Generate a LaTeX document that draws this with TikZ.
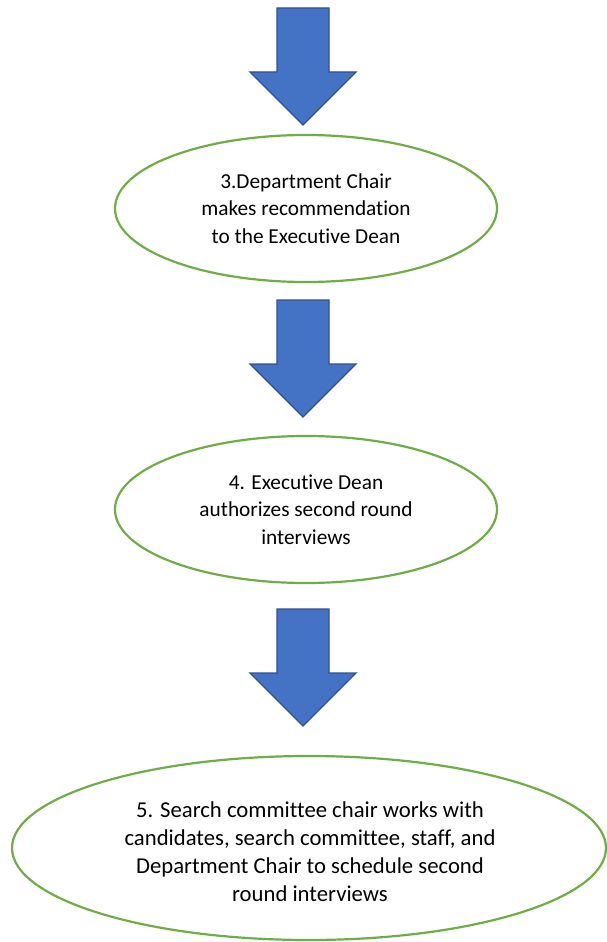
\documentclass[tikz,border=0pt]{standalone}
\usepackage{fontspec}
\setmainfont{Carlito}[Ligatures={NoCommon,NoRare,NoContextual}]
\usetikzlibrary{shapes.geometric}
\definecolor{arrowblue}{HTML}{4472C4}
\definecolor{arrowedge}{HTML}{2F528F}
\definecolor{ellgreen}{HTML}{70AD47}
\tikzset{
  stepell/.style={ellipse, draw=ellgreen, line width=2.2pt, fill=white,
    align=center, inner sep=0pt,
    font=\fontsize{21.3}{27.5}\selectfont, text=black},
  steptext/.style={align=center, inner sep=0pt, text=black,
    font=\fontsize{22.7}{27.8}\selectfont},
  blockarrow/.style={fill=arrowblue, draw=arrowedge, line width=1.3pt, line join=miter}
}
\begin{document}
\begin{tikzpicture}[x=1pt,y=-1pt]
\useasboundingbox[fill=white] (0,0) rectangle (607,942);
% block arrows
\foreach \t/\n in {8/a1,300/a2,609/a3}{
  \draw[blockarrow] (277,\t) -- (329,\t) -- (329,\t+64) -- (356,\t+64)
    -- (303,\t+117) -- (250,\t+64) -- (277,\t+64) -- cycle;
}
\node[stepell, minimum width=382pt, minimum height=147pt] (s3) at (306,208.5)
  {3.Department Chair\\makes recommendation\\to the Executive Dean};
\node[stepell, minimum width=382pt, minimum height=147pt] (s4) at (306,509.5)
  {4. Executive Dean\\authorizes second round\\interviews};
\node[stepell, minimum width=594pt, minimum height=184pt] (s5) at (309,848) {};
\node[steptext] (t5) at (310,851.5)
  {5. Search committee chair works with\\candidates, search committee, staff, and\\Department Chair to schedule second\\round interviews};
\end{tikzpicture}
\end{document}
